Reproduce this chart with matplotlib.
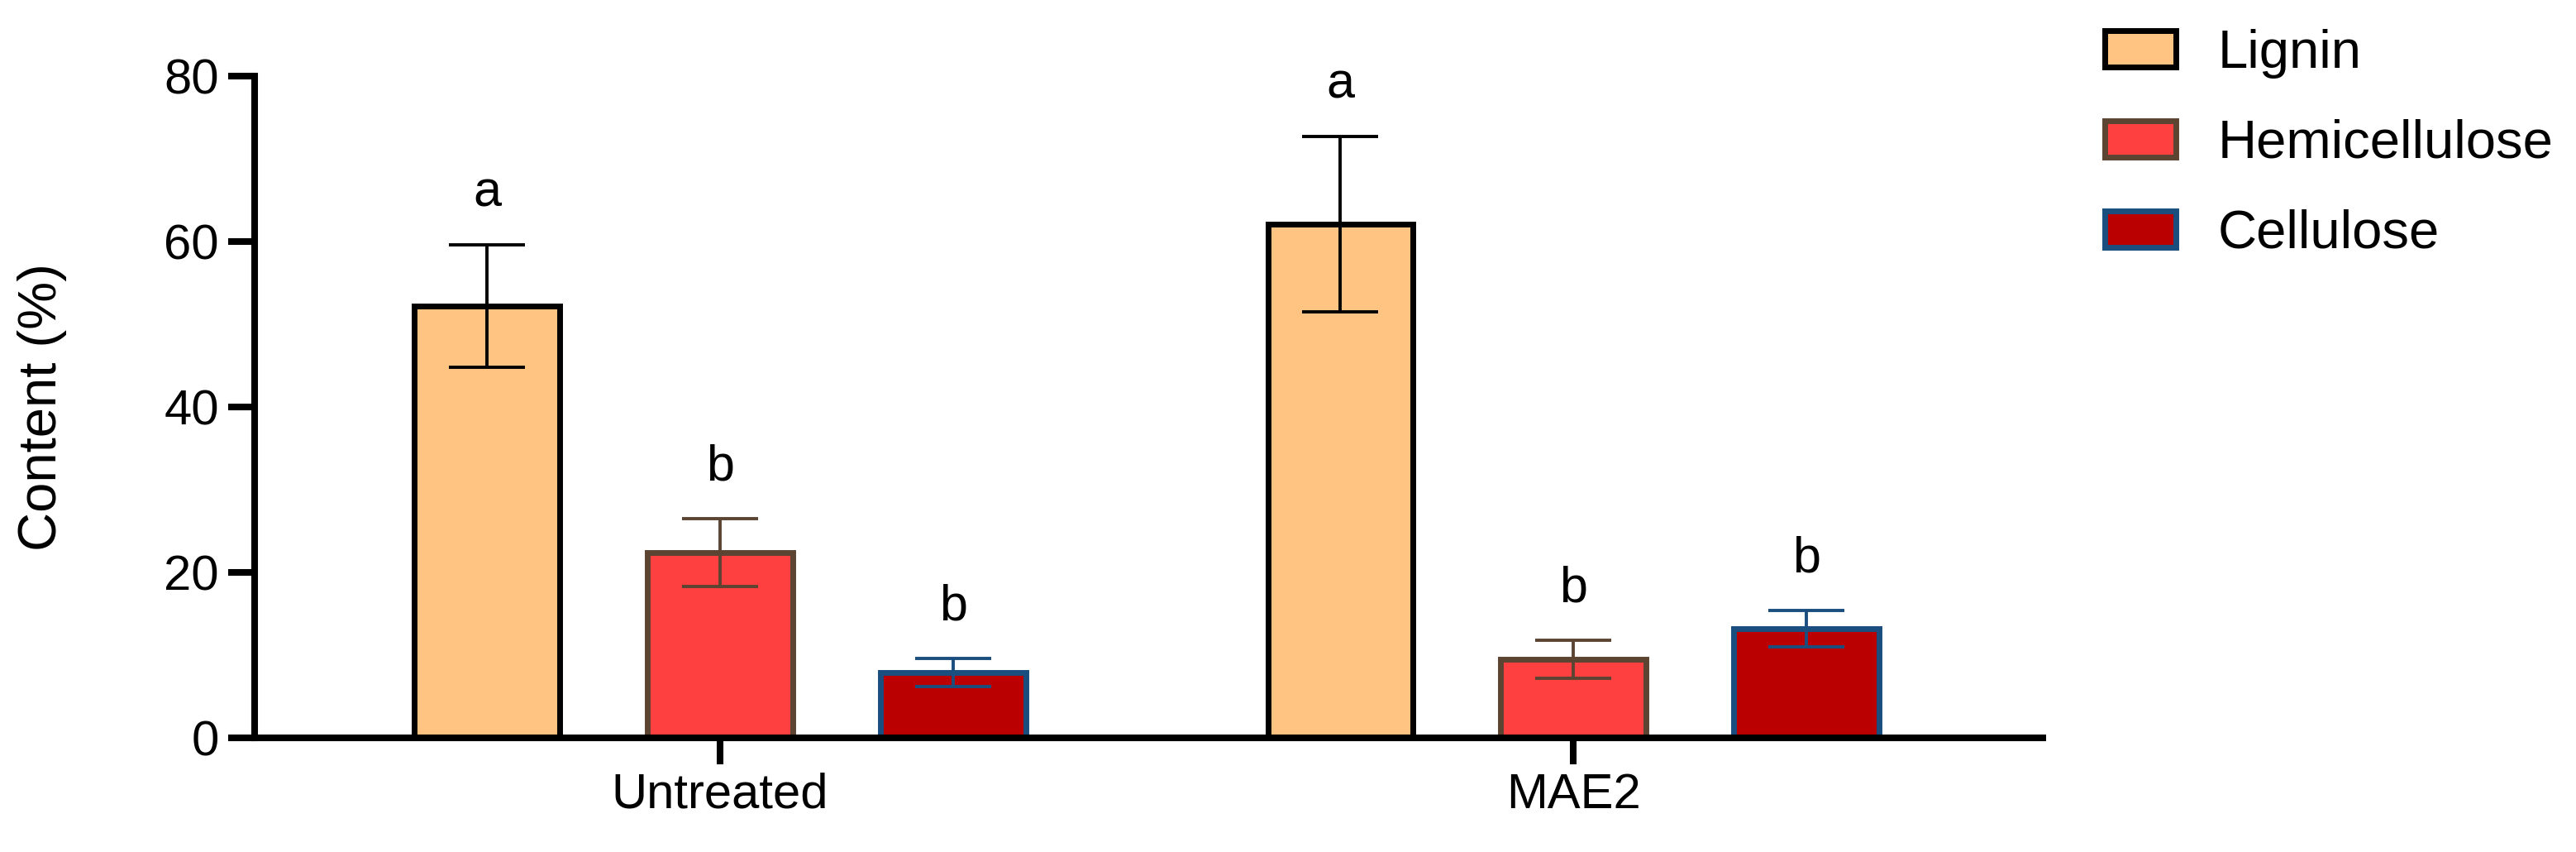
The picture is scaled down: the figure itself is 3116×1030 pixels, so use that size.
import numpy as np
import matplotlib
matplotlib.use('Agg')
import matplotlib.pyplot as plt
from matplotlib.patches import Patch

plt.rcParams['font.family'] = ['Liberation Sans', 'DejaVu Sans']

groups = ['Untreated', 'MAE2']
components = ['Lignin', 'Hemicellulose', 'Cellulose']
lignin = [52.2, 62.1]
lignin_err = [7.4, 10.6]
hemicellulose = [22.4, 9.5]
hemicellulose_err = [4.1, 2.3]
cellulose = [7.9, 13.2]
cellulose_err = [1.7, 2.2]
lignin_letters = ['a', 'a']
hemicellulose_letters = ['b', 'b']
cellulose_letters = ['b', 'b']

fills = ['#FFC382', '#FF4040', '#BA0000']
edges = ['#000000', '#5C4432', '#1A4E7E']

fig = plt.figure(figsize=(31.16, 10.30), dpi=100)
ax = fig.add_axes([0.0988, 0.134, 0.6942, 0.7767])

x = np.arange(len(groups))
pitch = 0.273
width = 0.170
series = [(lignin, lignin_err, lignin_letters),
          (hemicellulose, hemicellulose_err, hemicellulose_letters),
          (cellulose, cellulose_err, cellulose_letters)]

for i, (vals, errs, letters) in enumerate(series):
    pos = x + (i - 1) * pitch
    ax.bar(pos, vals, width, color=fills[i], edgecolor=edges[i], linewidth=5, zorder=2)
    ax.errorbar(pos, vals, yerr=errs, fmt='none', ecolor=edges[i], elinewidth=2.8,
                capsize=33, capthick=2.8, zorder=3)
    for p, v, e, t in zip(pos, vals, errs, letters):
        ax.text(p, v + e + 4.6, t, ha='center', va='baseline', fontsize=44)

ax.set_xlim(-0.5455, 1.550)
ax.set_ylim(0, 80)
ax.set_yticks([0, 20, 40, 60, 80])
ax.set_xticks(x)
ax.set_xticklabels(groups)
ax.tick_params(axis='both', labelsize=43, length=23, width=5.8)
ax.tick_params(axis='y', pad=8)
ax.tick_params(axis='x', pad=7)
for s in ['top', 'right']:
    ax.spines[s].set_visible(False)
for s in ['left', 'bottom']:
    ax.spines[s].set_linewidth(5.8)
    ax.spines[s].set_zorder(4)

ax.set_ylabel('Content (%)', fontsize=47)
ax.yaxis.set_label_coords(-0.105, 0.5)

handles = [Patch(facecolor=fills[i], edgecolor=edges[i], linewidth=5, label=components[i])
           for i in range(3)]
fig.legend(handles=handles, loc='upper left', bbox_to_anchor=(2546 / 3116, 0.966),
           frameon=False, fontsize=47, handlelength=1.32, handleheight=0.65,
           handletextpad=0.77, labelspacing=0.75, borderpad=0, borderaxespad=0)

fig.savefig('out.png', dpi=100)
